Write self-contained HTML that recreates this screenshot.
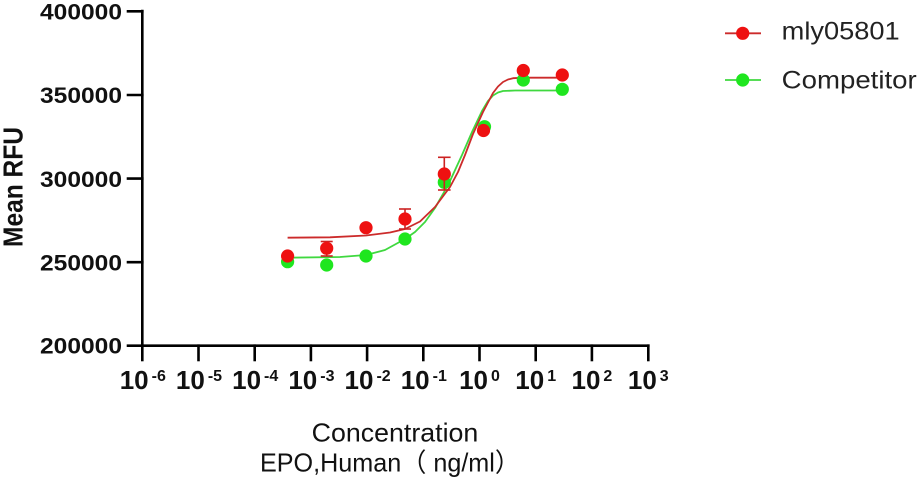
<!DOCTYPE html>
<html>
<head>
<meta charset="utf-8">
<style>
  html, body { margin:0; padding:0; background:#fff; }
  svg { display:block; }
  text { font-family: "Liberation Sans", "Noto Sans CJK SC", sans-serif; }
</style>
</head>
<body>
<svg width="920" height="480" viewBox="0 0 920 480" xmlns="http://www.w3.org/2000/svg">
  <rect width="920" height="480" fill="#fff"/>

  <!-- Axes -->
  <g stroke="#000" stroke-width="2.6" fill="none" stroke-linecap="square">
    <line x1="142.3" y1="11" x2="142.3" y2="345.7"/>
    <line x1="142.3" y1="345.7" x2="648.3" y2="345.7"/>
    <!-- y ticks -->
    <line x1="128" y1="11.3" x2="142.3" y2="11.3"/>
    <line x1="128" y1="95" x2="142.3" y2="95"/>
    <line x1="128" y1="178.6" x2="142.3" y2="178.6"/>
    <line x1="128" y1="262.2" x2="142.3" y2="262.2"/>
    <line x1="128" y1="345.7" x2="142.3" y2="345.7"/>
    <!-- x ticks -->
    <line x1="142.3" y1="345.7" x2="142.3" y2="360"/>
    <line x1="198.5" y1="345.7" x2="198.5" y2="360"/>
    <line x1="254.7" y1="345.7" x2="254.7" y2="360"/>
    <line x1="310.9" y1="345.7" x2="310.9" y2="360"/>
    <line x1="367.1" y1="345.7" x2="367.1" y2="360"/>
    <line x1="423.3" y1="345.7" x2="423.3" y2="360"/>
    <line x1="479.5" y1="345.7" x2="479.5" y2="360"/>
    <line x1="535.7" y1="345.7" x2="535.7" y2="360"/>
    <line x1="591.9" y1="345.7" x2="591.9" y2="360"/>
    <line x1="648.3" y1="345.7" x2="648.3" y2="360"/>
  </g>

  <!-- Y tick labels -->
  <g font-weight="bold" font-size="22.5" fill="#111">
    <text x="40" y="19.3" textLength="82" lengthAdjust="spacingAndGlyphs">400000</text>
    <text x="40" y="103" textLength="82" lengthAdjust="spacingAndGlyphs">350000</text>
    <text x="40" y="186.8" textLength="82" lengthAdjust="spacingAndGlyphs">300000</text>
    <text x="40" y="270.3" textLength="82" lengthAdjust="spacingAndGlyphs">250000</text>
    <text x="40" y="353.6" textLength="82" lengthAdjust="spacingAndGlyphs">200000</text>
  </g>

  <!-- Y axis title -->
  <g transform="translate(22.5,247) rotate(-90) scale(1,1.12)">
    <text x="0" y="0" font-weight="bold" font-size="25" fill="#111" textLength="120" lengthAdjust="spacingAndGlyphs">Mean RFU</text>
  </g>

  <!-- X tick labels -->
  <g font-weight="bold" font-size="26" fill="#111" text-anchor="middle">
    <text x="142.8" y="389">10<tspan dx="3" dy="-8" font-size="16">-6</tspan></text>
    <text x="199" y="389">10<tspan dx="3" dy="-8" font-size="16">-5</tspan></text>
    <text x="255.2" y="389">10<tspan dx="3" dy="-8" font-size="16">-4</tspan></text>
    <text x="311.4" y="389">10<tspan dx="3" dy="-8" font-size="16">-3</tspan></text>
    <text x="367.6" y="389">10<tspan dx="3" dy="-8" font-size="16">-2</tspan></text>
    <text x="423.8" y="389">10<tspan dx="3" dy="-8" font-size="16">-1</tspan></text>
    <text x="479.5" y="389">10<tspan dx="3" dy="-8" font-size="16">0</tspan></text>
    <text x="535.7" y="389">10<tspan dx="3" dy="-8" font-size="16">1</tspan></text>
    <text x="591.9" y="389">10<tspan dx="3" dy="-8" font-size="16">2</tspan></text>
    <text x="648.3" y="389">10<tspan dx="3" dy="-8" font-size="16">3</tspan></text>
  </g>

  <!-- X axis title -->
  <text x="311.7" y="441.7" font-size="26" fill="#111" textLength="166.6" lengthAdjust="spacingAndGlyphs">Concentration</text>
  <text x="260" y="471.7" font-size="26" fill="#111" textLength="260" lengthAdjust="spacingAndGlyphs">EPO,Human（ ng/ml）</text>

  <!-- Green curve -->
  <polyline fill="none" stroke="#3fd83f" stroke-width="1.8" stroke-linejoin="round"
    points="287.6,257.7 340,257 366,255 385,250 405,239 415,232 425,222 435,208 443,194 450,181 462,155 472,132 482,111 488,101 493,95.5 498,92.5 503,91 515,90.5 562.3,90.5"/>
  <!-- Red curve -->
  <polyline fill="none" stroke="#cc2b2b" stroke-width="1.8" stroke-linejoin="round"
    points="287.6,237.7 330,237.3 366,235.5 390,232.5 405,229 420,221.5 435,207 450,187 458,172 465,155 473,134 483,112 493,93 498,86.5 503,82 508,79.5 513,78.2 525,77.7 562.3,77.7"/>

  <!-- Green markers -->
  <g fill="#1fe61f">
    <circle cx="287.6" cy="261.7" r="6.6"/>
    <circle cx="326.7" cy="265" r="6.6"/>
    <circle cx="366" cy="256" r="6.6"/>
    <circle cx="405" cy="239" r="6.6"/>
    <circle cx="444.3" cy="182.3" r="6.6"/>
    <circle cx="484.5" cy="126.7" r="6.6"/>
    <circle cx="523.3" cy="80" r="6.6"/>
    <circle cx="562.3" cy="89.3" r="6.6"/>
  </g>

  <!-- Red error bars -->
  <g stroke="#cc2222" stroke-width="1.6" fill="none">
    <line x1="326.7" y1="241.5" x2="326.7" y2="256"/>
    <line x1="320.7" y1="241.5" x2="332.7" y2="241.5"/>
    <line x1="320.7" y1="256" x2="332.7" y2="256"/>
    <line x1="405" y1="209" x2="405" y2="229"/>
    <line x1="399" y1="209" x2="411" y2="209"/>
    <line x1="399" y1="229" x2="411" y2="229"/>
    <line x1="444.3" y1="157.3" x2="444.3" y2="190"/>
    <line x1="438" y1="157.3" x2="450.6" y2="157.3"/>
    <line x1="438" y1="190" x2="450.6" y2="190"/>
  </g>

  <!-- Red markers -->
  <g fill="#ee1111">
    <circle cx="287.6" cy="256" r="6.6"/>
    <circle cx="326.7" cy="248.3" r="6.6"/>
    <circle cx="366" cy="227.7" r="6.6"/>
    <circle cx="405" cy="219" r="6.6"/>
    <circle cx="444.3" cy="174" r="6.6"/>
    <circle cx="483.5" cy="130.5" r="6.6"/>
    <circle cx="523.3" cy="70.5" r="6.6"/>
    <circle cx="562.3" cy="75" r="6.6"/>
  </g>

  <!-- Legend -->
  <line x1="725" y1="33.3" x2="761" y2="33.3" stroke="#cc2b2b" stroke-width="1.8"/>
  <circle cx="742.7" cy="33.3" r="6.6" fill="#ee1111"/>
  <text x="781.7" y="39.6" font-size="25" fill="#222" textLength="118" lengthAdjust="spacingAndGlyphs">mly05801</text>

  <line x1="725" y1="80" x2="761" y2="80" stroke="#3fd83f" stroke-width="1.8"/>
  <circle cx="742.7" cy="80" r="6.6" fill="#1fe61f"/>
  <text x="781.7" y="88.3" font-size="25" fill="#222" textLength="135" lengthAdjust="spacingAndGlyphs">Competitor</text>
</svg>
</body>
</html>
